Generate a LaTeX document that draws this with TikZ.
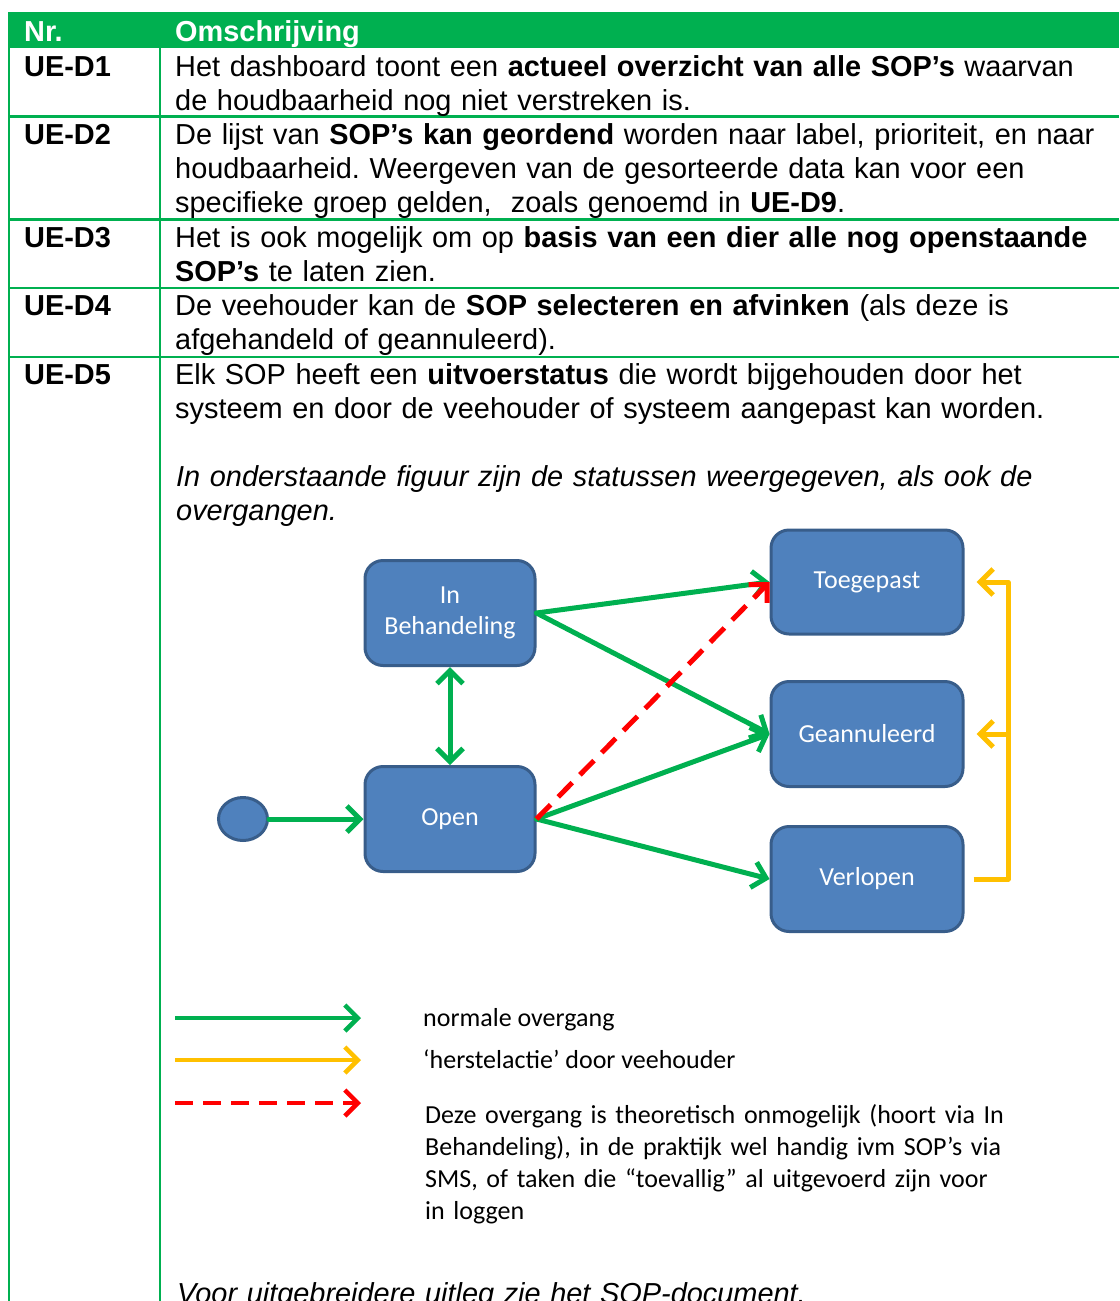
\documentclass[tikz,border=0pt]{standalone}
\usepackage{fontspec}
\setmainfont{Liberation Sans}
\newfontfamily\calibri{Carlito}
\usetikzlibrary{arrows.meta,shapes.geometric}
\frenchspacing
\definecolor{tabgreen}{HTML}{00B050}
\definecolor{statefill}{HTML}{4F81BD}
\definecolor{stateline}{HTML}{385D8A}
\definecolor{herstel}{HTML}{FFC000}
\tikzset{
  tabtext/.style={anchor=base west,inner sep=0pt,text width=940pt,align=left,
    font=\fontsize{28.9}{34}\selectfont},
  rowlabel/.style={anchor=base west,inner sep=0pt,font=\fontsize{28.9}{34}\selectfont\bfseries},
  state/.style={draw=stateline,line width=3pt,fill=statefill,rounded corners=18pt,
    text=white,align=center,font=\calibri\fontsize{26}{31}\selectfont},
  trans/.style={draw=tabgreen,line width=5pt,line cap=round,
    -{Straight Barb[length=13pt,width=26pt]}},
  herstelpijl/.style={draw=herstel,line width=5pt,line join=round,
    -{Straight Barb[length=13pt,width=26pt]}},
  onmogelijk/.style={draw=red,line width=5pt,dash pattern=on 20pt off 11pt,
    -{Straight Barb[length=13pt,width=26pt]}},
  legtext/.style={anchor=base west,inner sep=0pt,font=\calibri\fontsize{26}{32}\selectfont}
}
\begin{document}
\begin{tikzpicture}[x=1pt,y=-1pt]
\useasboundingbox (0,0) rectangle (1119,1301);
\clip (0,0) rectangle (1119,1301);
% table
\fill[tabgreen] (8,12) rectangle (1119,48);
\node[rowlabel,text=white] (hnr) at (24,41) {Nr.};
\node[rowlabel,text=white] (homs) at (175,41) {Omschrijving};
\draw[tabgreen,line width=2.2pt] (9,48) -- (9,1301);
\draw[tabgreen,line width=2.2pt] (160,48) -- (160,1301);
\foreach \y in {116.5,219.5,288,357}
  \draw[tabgreen,line width=2.2pt] (9,\y) -- (1119,\y);

\node[rowlabel] (d1) at (24,76) {UE-D1};
\node[tabtext] (t1) at (175,76) {Het dashboard toont een \textbf{actueel overzicht van alle SOP’s} waarvan\\
de houdbaarheid nog niet verstreken is.};
\node[rowlabel] (d2) at (24,144) {UE-D2};
\node[tabtext] (t2) at (175,144) {De lijst van \textbf{SOP’s kan geordend} worden naar label, prioriteit, en naar\\
houdbaarheid. Weergeven van de gesorteerde data kan voor een\\
specifieke groep gelden,\ \ zoals genoemd in \textbf{UE-D9}.};
\node[rowlabel] (d3) at (24,247) {UE-D3};
\node[tabtext] (t3) at (175,247) {Het is ook mogelijk om op \textbf{basis van een dier alle nog openstaande}\\
\textbf{SOP’s} te laten zien.};
\node[rowlabel] (d4) at (24,315) {UE-D4};
\node[tabtext] (t4) at (175,315) {De veehouder kan de \textbf{SOP selecteren en afvinken} (als deze is\\
afgehandeld of geannuleerd).};
\node[rowlabel] (d5) at (24,384) {UE-D5};
\node[tabtext] (t5) at (175,384) {Elk SOP heeft een \textbf{uitvoerstatus} die wordt bijgehouden door het\\
systeem en door de veehouder of systeem aangepast kan worden.};
\node[tabtext,font=\fontsize{28.9}{34}\selectfont\itshape] (fig) at (176,486) {In onderstaande figuur zijn de statussen weergegeven, als ook de\\
overgangen.};

% statussen
\node[state,ellipse,rounded corners=0pt,minimum width=49pt,minimum height=43pt] (start) at (243,819) {};
\node[state,minimum width=170pt,minimum height=105pt] (behandeling) at (450,613) {In\\Behandeling};
\node[state,minimum width=170pt,minimum height=105pt] (open) at (450,819) {Open};
\node[state,minimum width=192pt,minimum height=104pt] (toegepast) at (867,582) {Toegepast};
\node[state,minimum width=192pt,minimum height=105pt] (geannuleerd) at (867,734) {Geannuleerd};
\node[state,minimum width=192pt,minimum height=105pt] (verlopen) at (867,879) {Verlopen};

% overgangen
\draw[trans] (start) -- (open);
\draw[trans,{Straight Barb[length=13pt,width=26pt]}-{Straight Barb[length=13pt,width=26pt]}] (behandeling) -- (open);
\draw[trans] (behandeling.east) -- (toegepast.west);
\draw[trans] (behandeling.east) -- (geannuleerd.west);
\draw[trans] (open.east) -- (geannuleerd.west);
\draw[trans] (open.east) -- (verlopen.west);
\draw[onmogelijk] (open.east) -- (toegepast.west);

% herstelacties
\coordinate (railtop) at (1008,582);
\coordinate (railmid) at (1008,734);
\draw[herstelpijl] ([xshift=9pt]verlopen.east) -| (railtop) -- ([xshift=12pt]toegepast.east);
\draw[herstelpijl] (railmid) -- ([xshift=12pt]geannuleerd.east);

% legenda
\coordinate (l1a) at (175,1018); \coordinate (l1b) at (361,1018);
\coordinate (l2a) at (175,1060); \coordinate (l2b) at (361,1060);
\coordinate (l3a) at (175,1103); \coordinate (l3b) at (361,1103);
\draw[trans,line width=4.5pt,line cap=butt] (l1a) -- (l1b);
\draw[herstelpijl,line width=4.5pt] (l2a) -- (l2b);
\draw[onmogelijk,line width=4.5pt,dash pattern=on 18pt off 10pt] (l3a) -- (l3b);
\node[legtext] (leg1) at (423,1026) {normale overgang};
\node[legtext] (leg2) at (423,1068) {‘herstelactie’ door veehouder};
\node[legtext,text width=600pt,align=left] (leg3) at (425,1123) {Deze overgang is theoretisch onmogelijk (hoort via In\\
Behandeling), in de praktijk wel handig ivm SOP’s via\\
SMS, of taken die “toevallig” al uitgevoerd zijn voor\\
in loggen};

\node[tabtext,font=\fontsize{28.9}{34}\selectfont\itshape] (voor) at (177,1303) {Voor uitgebreidere uitleg zie het SOP-document.};
\end{tikzpicture}
\end{document}
